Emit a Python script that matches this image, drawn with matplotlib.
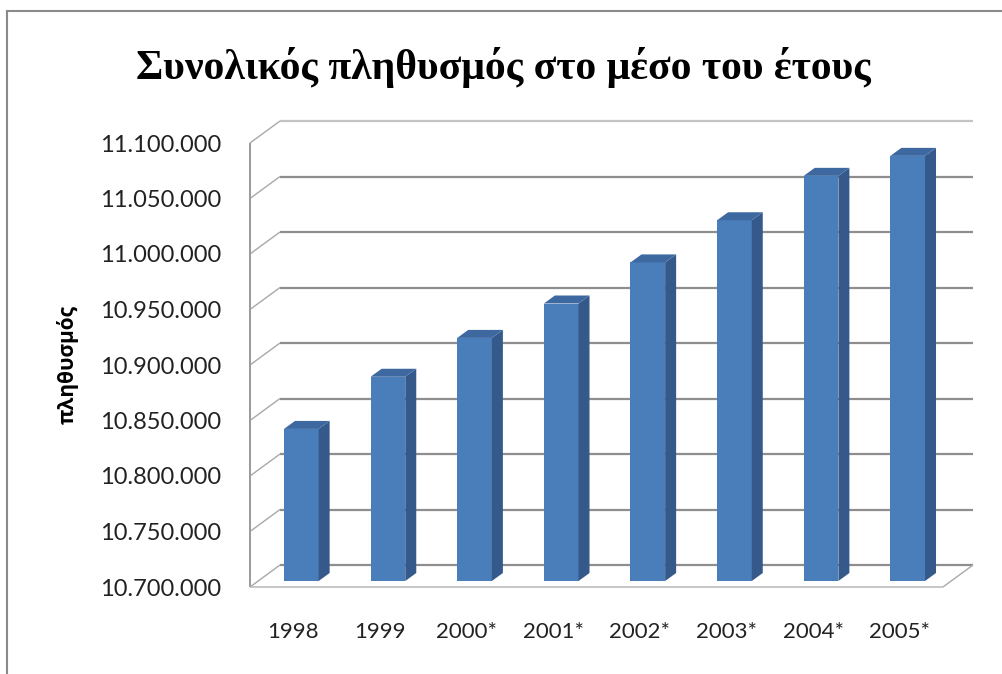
import matplotlib
matplotlib.use("Agg")
import matplotlib.pyplot as plt
from matplotlib.patches import Polygon
from matplotlib.transforms import ScaledTranslation
import numpy as np

# Mid-year total population
years = ["1998", "1999", "2000*", "2001*", "2002*", "2003*", "2004*", "2005*"]
population = [10837000, 10884000, 10919000, 10950000, 10987000, 11025000, 11065000, 11083000]
y_ticks = [10700000, 10750000, 10800000, 10850000, 10900000, 10950000,
           11000000, 11050000, 11100000]
y_tick_labels = ["10.700.000", "10.750.000", "10.800.000", "10.850.000", "10.900.000",
                 "10.950.000", "11.000.000", "11.050.000", "11.100.000"]
title = "Συνολικός πληθυσμός στο μέσο του έτους"
y_label = "πληθυσμός"

W, H, DPI = 1002, 674, 100
fig = plt.figure(figsize=(W / DPI, H / DPI), dpi=DPI)
fig.patch.set_facecolor("white")

# front plane of the 3-D box, in pixel units
left_px, right_px, bottom_px, top_px = 250, 943, 587, 143
ax = fig.add_axes([left_px / W, 1 - bottom_px / H,
                   (right_px - left_px) / W, (bottom_px - top_px) / H])
ax.set_facecolor("none")
base, ymax = y_ticks[0], y_ticks[-1]
n = len(years)
xs = np.arange(n)
ax.set_xlim(-0.5, n - 0.5)
ax.set_ylim(base, ymax)
for s in ax.spines.values():
    s.set_visible(False)

# depth offsets (pixels): wall depth, bar placement and bar thickness
WALL = (30, 22)
BAR_OFF = (8, 6)
BAR_BACK = (19, 14)


def shift(x, y, d):
    p = ax.transData.transform((x, y))
    return ax.transData.inverted().transform((p[0] + d[0], p[1] + d[1]))


def seg(p0, p1, **kw):
    ax.plot([p0[0], p1[0]], [p0[1], p1[1]], clip_on=False, solid_capstyle="butt", **kw)


x0, x1 = -0.5, n - 0.5
# back wall gridlines
for t in y_ticks:
    col = "#c4c4c4" if t == ymax else "#8e8e8e"
    seg(shift(x0, t, WALL), shift(x1, t, WALL), color=col, lw=1.6, zorder=1)
    # side wall diagonals
    seg((x0, t), shift(x0, t, WALL), color="#a8a8a8", lw=1.0, zorder=1)
# front-left edge of side wall
seg((x0, base), (x0, ymax), color="#9a9a9a", lw=1.4, zorder=1)
# floor outline
seg((x0, base), (x1, base), color="#bdbdbd", lw=1.2, zorder=1)
seg((x1, base), shift(x1, base, WALL), color="#a8a8a8", lw=1.0, zorder=1)

# bars: front faces sit a little way into the box
bw = 0.4
front_col, side_col, top_col = "#4a7ebb", "#34598a", "#3e68a0"
bar_tr = ax.transData + ScaledTranslation(BAR_OFF[0] / DPI, BAR_OFF[1] / DPI,
                                          fig.dpi_scale_trans)
bars = ax.bar(xs, [v - base for v in population], bottom=base, width=bw,
              color=front_col, edgecolor="none", zorder=3, clip_on=False,
              transform=bar_tr)
for rect in bars:
    xl = rect.get_x()
    xr = xl + bw
    yb = rect.get_y()
    yt = yb + rect.get_height()
    side = [shift(xr, yb, BAR_OFF), shift(xr, yt, BAR_OFF),
            shift(xr, yt, BAR_BACK), shift(xr, yb, BAR_BACK)]
    top = [shift(xl, yt, BAR_OFF), shift(xr, yt, BAR_OFF),
           shift(xr, yt, BAR_BACK), shift(xl, yt, BAR_BACK)]
    ax.add_patch(Polygon(side, closed=True, facecolor=side_col, edgecolor="none",
                         zorder=3, clip_on=False))
    ax.add_patch(Polygon(top, closed=True, facecolor=top_col, edgecolor="none",
                         zorder=3, clip_on=False))

ax.set_yticks(y_ticks)
ax.set_yticklabels(y_tick_labels, fontsize=17, family=["Lato", "DejaVu Sans"], color="#222222")
ax.set_xticks(xs)
ax.set_xticklabels(years, fontsize=16, family=["Lato", "DejaVu Sans"], color="#222222")
ax.tick_params(axis="both", length=0)
ax.tick_params(axis="y", pad=21)
ax.tick_params(axis="x", pad=25)

fig.text(503 / W, 1 - 68 / H, title, ha="center", va="center", fontsize=30,
         fontweight="bold", family=["Liberation Serif", "DejaVu Serif"])
fig.text(68 / W, 1 - 365 / H, y_label, ha="center", va="center", rotation=90,
         fontsize=15, fontweight="bold", family=["Open Sans", "DejaVu Sans"])

# outer frame
fig.add_artist(plt.Line2D([7 / W, 7 / W], [0, 1 - 11 / H], transform=fig.transFigure,
                          color="#8a8a8a", lw=1.5))
fig.add_artist(plt.Line2D([7 / W, 1], [1 - 11 / H, 1 - 11 / H], transform=fig.transFigure,
                          color="#8a8a8a", lw=1.5))

fig.savefig("out.png", dpi=DPI, facecolor="white")
